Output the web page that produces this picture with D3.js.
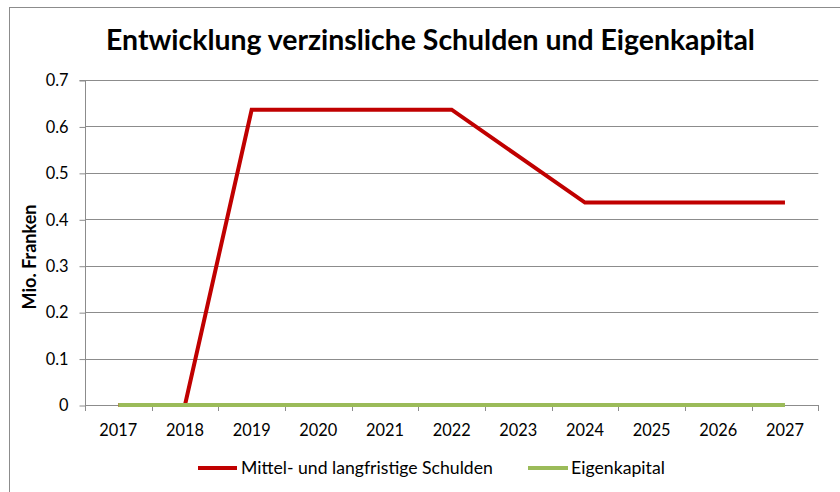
<!DOCTYPE html>
<html><head><meta charset="utf-8">
<script src="https://cdn.jsdelivr.net/npm/d3@7"></script>
<style>body{margin:0;background:#fff}svg{display:block}text{font-family:Lato,"Liberation Sans",sans-serif;fill:#000}</style>
</head><body><svg id="c" width="840" height="492"></svg>
<script>
const years = ["2017","2018","2019","2020","2021","2022","2023","2024","2025","2026","2027"];
const schulden = [0, 0, 0.636, 0.636, 0.636, 0.636, 0.536, 0.436, 0.436, 0.436, 0.436];
const eigenkapital = [0, 0, 0, 0, 0, 0, 0, 0, 0, 0, 0];
const yTicks = [0, 0.1, 0.2, 0.3, 0.4, 0.5, 0.6, 0.7];
const seriesNames = ["Mittel- und langfristige Schulden", "Eigenkapital"];
const seriesColors = ["#C00000", "#9BBB59"];
const titleText = "Entwicklung verzinsliche Schulden und Eigenkapital";
const yLabel = "Mio. Franken";

const svg = d3.select("#c");
const W = 840, H = 492;
const m = {left: 85, right: 840 - 818.3, top: 80, bottom: 492 - 405};
const x = d3.scaleBand().domain(years).range([m.left, W - m.right]);
const y = d3.scaleLinear().domain([0, 0.7]).range([H - m.bottom, m.top]);

// frame
svg.append("rect").attr("x", 9.5).attr("y", 7.5).attr("width", 900).attr("height", 600)
  .attr("fill", "none").attr("stroke", "#8c8c8c").attr("stroke-width", 1);

function fitSize(sel, target) {
  const n = sel.node();
  const fs = parseFloat(sel.attr("font-size"));
  const w = n.getComputedTextLength();
  sel.attr("font-size", fs * target / w);
}

// gridlines
svg.append("g").selectAll("line").data(yTicks.filter(d => d > 0)).join("line")
  .attr("x1", m.left).attr("x2", W - m.right)
  .attr("y1", d => Math.round(y(d)) + 0.5).attr("y2", d => Math.round(y(d)) + 0.5)
  .attr("stroke", "#8c8c8c").attr("stroke-width", 1);

// y axis
const ya = svg.append("g").attr("transform", `translate(${m.left + 0.5},0.5)`)
  .call(d3.axisLeft(y).tickValues(yTicks).tickFormat(d => d === 0 ? "0" : d3.format(".1f")(d)).tickSize(6).tickPadding(11));
ya.selectAll("path,line").attr("stroke", "#8c8c8c");
ya.select(".domain").attr("d", `M-6,${y(0.7)}H0V${y(0)}`);
ya.selectAll("text").attr("font-size", 17).attr("font-family", "Lato").attr("fill", "#000");

// x axis
const xa = svg.append("g").attr("transform", `translate(0,${Math.round(y(0)) + 0.5})`)
  .call(d3.axisBottom(x).tickSize(0).tickPadding(19));
xa.select(".domain").attr("stroke", "#8c8c8c").attr("d", `M${m.left},0H${W - m.right}`);
xa.selectAll("text").attr("font-size", 17).attr("font-family", "Lato").attr("fill", "#000");
const bounds = [...years.map(v => x(v)), x.range()[1]];
svg.append("g").selectAll("line").data(bounds).join("line")
  .attr("x1", d => Math.round(d) + 0.5).attr("x2", d => Math.round(d) + 0.5)
  .attr("y1", Math.round(y(0))).attr("y2", Math.round(y(0)) + 6)
  .attr("stroke", "#8c8c8c");

// fit tick fonts
{
  const t = xa.select(".tick text");
  const w = t.node().getComputedTextLength();
  const fs = 17 * 38 / w;
  xa.selectAll("text").attr("font-size", fs);
  ya.selectAll("text").attr("font-size", fs);
}

// lines
const line = d3.line().x((d, i) => x(years[i]) + x.bandwidth() / 2).y(d => y(d));
[schulden, eigenkapital].forEach((s, k) => {
  svg.append("path").datum(s).attr("d", line).attr("fill", "none")
    .attr("stroke", seriesColors[k]).attr("stroke-width", 4).attr("stroke-linejoin", "miter");
});

// title
const tt = svg.append("text").attr("x", 430.5).attr("y", 50).attr("text-anchor", "middle")
  .attr("font-weight", "bold").attr("font-size", 26).text(titleText);
fitSize(tt, 649);

// y label
const yl = svg.append("text").attr("transform", "translate(36,257) rotate(-90)")
  .attr("text-anchor", "middle").attr("font-weight", "bold").attr("font-size", 15).text(yLabel);
fitSize(yl, 105);

// legend
const leg = [{x1: 198, x2: 237, tx: 241, w: 252}, {x1: 528, x2: 568, tx: 571, w: 94}];
leg.forEach((l, k) => {
  svg.append("line").attr("x1", l.x1).attr("x2", l.x2).attr("y1", 468).attr("y2", 468)
    .attr("stroke", seriesColors[k]).attr("stroke-width", 4);
  const t = svg.append("text").attr("x", l.tx).attr("y", 473.5).attr("font-size", 16).text(seriesNames[k]);
  fitSize(t, l.w);
});
</script></body></html>
